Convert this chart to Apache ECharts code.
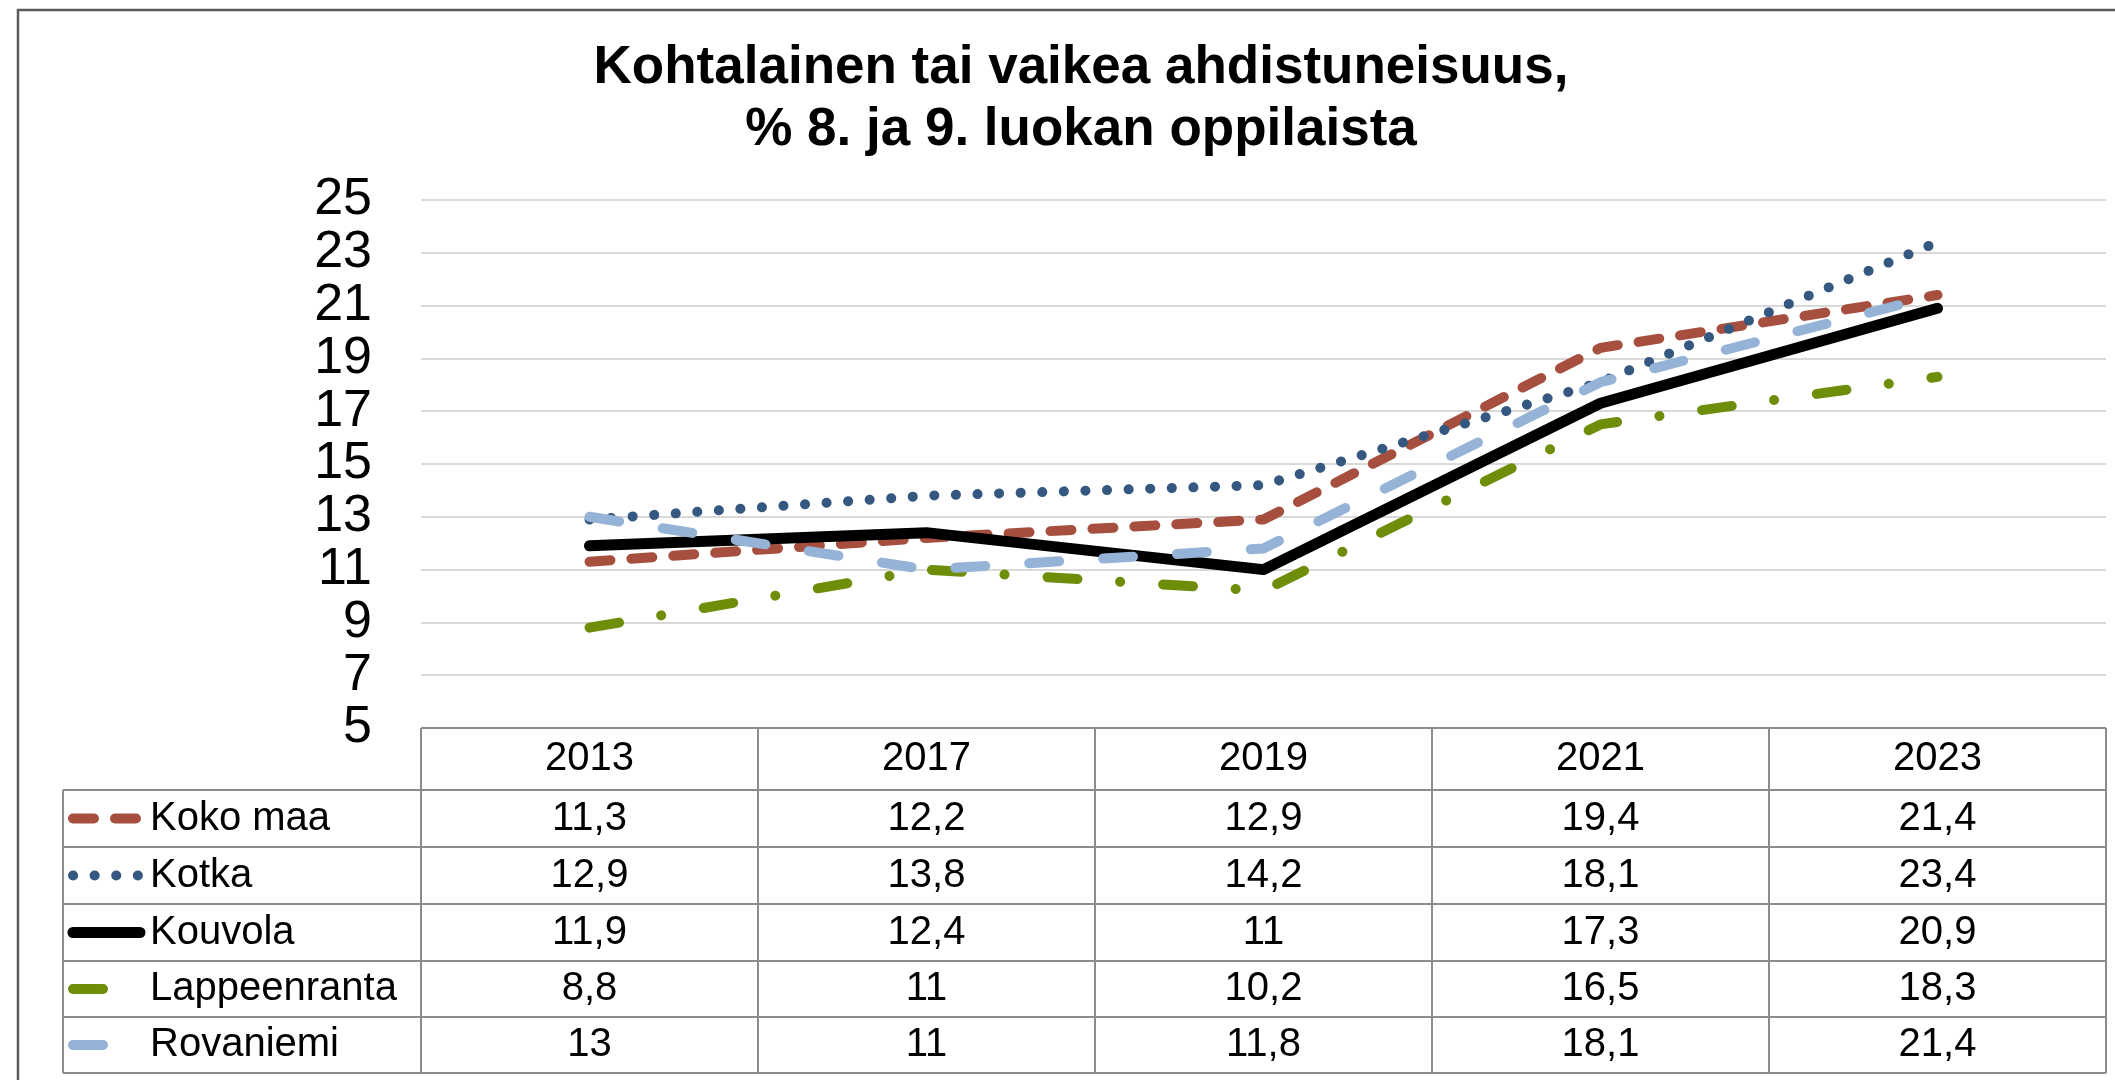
<!DOCTYPE html>
<html>
<head>
<meta charset="utf-8">
<title>Kohtalainen tai vaikea ahdistuneisuus</title>
<script src="https://cdn.jsdelivr.net/npm/echarts@6/dist/echarts.min.js"></script>
<style>
  html, body { margin: 0; padding: 0; background: #fff; }
  #chart { width: 2115px; height: 1080px; }
</style>
</head>
<body>
<div id="chart"></div>
<script>
// data
const years = ['2013', '2017', '2019', '2021', '2023'];
const seriesNames = ['Koko maa', 'Kotka', 'Kouvola', 'Lappeenranta', 'Rovaniemi'];
const kokoMaa = [11.3, 12.2, 12.9, 19.4, 21.4];
const kotka = [12.9, 13.8, 14.2, 18.1, 23.4];
const kouvola = [11.9, 12.4, 11, 17.3, 20.9];
const lappeenranta = [8.8, 11, 10.2, 16.5, 18.3];
const rovaniemi = [13, 11, 11.8, 18.1, 21.4];
const yTicks = { min: 5, max: 25, step: 2 };

const values = [kokoMaa, kotka, kouvola, lappeenranta, rovaniemi];

// line look per series (Excel style dashes, round caps)
const styles = [
  { color: '#A64F3F', width: 10, type: [21, 21] },
  { color: '#34587F', width: 10, type: [0.1, 21.5] },
  { color: '#000000', width: 11, type: 'solid' },
  { color: '#6E8E0A', width: 10, type: [30, 42.7, 0.1, 43] },
  { color: '#95B3D7', width: 10, type: [30, 44] }
];

// layout
const FONT = '"Liberation Sans", Arial, sans-serif';
const gridLeft = 421, gridRight = 2106, gridTop = 200, axisY = 728;
const colW = (gridRight - gridLeft) / years.length;
const tableLeft = 63;
const rowLines = [790, 847, 904, 961, 1017, 1073];
const borderColor = '#8C8C8C';

const chart = echarts.init(document.getElementById('chart'));

const graphic = [];
// outer chart frame
graphic.push({
  type: 'rect', silent: true,
  shape: { x: 18, y: 10, width: 2200, height: 1200 },
  style: { fill: 'none', stroke: '#595959', lineWidth: 2.5 }
});

// table grid
const hLine = (x1, x2, y) => ({
  type: 'line', silent: true, z: 10,
  shape: { x1: x1, y1: y, x2: x2, y2: y },
  style: { stroke: borderColor, lineWidth: 2 }
});
const vLine = (x, y1, y2) => ({
  type: 'line', silent: true, z: 10,
  shape: { x1: x, y1: y1, x2: x, y2: y2 },
  style: { stroke: borderColor, lineWidth: 2 }
});
graphic.push(hLine(gridLeft, gridRight, axisY));
rowLines.forEach(y => graphic.push(hLine(tableLeft, gridRight, y)));
graphic.push(vLine(tableLeft, rowLines[0], rowLines[rowLines.length - 1]));
for (let i = 0; i <= years.length; i++) {
  graphic.push(vLine(gridLeft + colW * i, axisY, rowLines[rowLines.length - 1]));
}

// legend keys, names and values
seriesNames.forEach((name, r) => {
  const cy = (rowLines[r] + rowLines[r + 1]) / 2;
  const st = styles[r];
  graphic.push({
    type: 'line', silent: true, z: 11,
    shape: { x1: 73, y1: cy, x2: 140, y2: cy },
    style: {
      stroke: st.color, lineWidth: st.width, lineCap: 'round',
      lineDash: st.type === 'solid' ? null : st.type
    }
  });
  graphic.push({
    type: 'text', silent: true, z: 11,
    x: 150, y: cy,
    style: {
      text: name, fill: '#000', font: '40px ' + FONT,
      textAlign: 'left', textVerticalAlign: 'middle'
    }
  });
  values[r].forEach((v, c) => {
    graphic.push({
      type: 'text', silent: true, z: 11,
      x: gridLeft + colW * (c + 0.5), y: cy,
      style: {
        text: String(v).replace('.', ','), fill: '#000', font: '40px ' + FONT,
        textAlign: 'center', textVerticalAlign: 'middle'
      }
    });
  });
});

chart.setOption({
  animation: false,
  backgroundColor: '#fff',
  title: {
    text: 'Kohtalainen tai vaikea ahdistuneisuus,\n% 8. ja 9. luokan oppilaista',
    left: 1076,
    top: 32,
    textAlign: 'center',
    textStyle: {
      fontFamily: FONT, fontSize: 53, fontWeight: 'bold',
      color: '#000', lineHeight: 62
    }
  },
  grid: {
    left: gridLeft, right: 2115 - gridRight, top: gridTop, bottom: 1080 - axisY,
    containLabel: false
  },
  xAxis: {
    type: 'category',
    data: years,
    boundaryGap: true,
    axisLine: { show: false },
    axisTick: { show: false },
    axisLabel: {
      margin: 11, fontSize: 40, lineHeight: 40,
      fontFamily: FONT, color: '#000'
    }
  },
  yAxis: {
    type: 'value',
    min: yTicks.min, max: yTicks.max, interval: yTicks.step,
    axisLine: { show: false },
    axisTick: { show: false },
    axisLabel: { margin: 49, fontSize: 52, fontFamily: FONT, color: '#000' },
    splitLine: { lineStyle: { color: '#D9D9D9', width: 2 } }
  },
  series: seriesNames.map((name, i) => ({
    name: name,
    type: 'line',
    data: values[i],
    symbol: 'none',
    lineStyle: {
      color: styles[i].color,
      width: styles[i].width,
      type: styles[i].type,
      cap: 'round',
      join: 'round'
    }
  })),
  graphic: graphic
});
</script>
</body>
</html>
